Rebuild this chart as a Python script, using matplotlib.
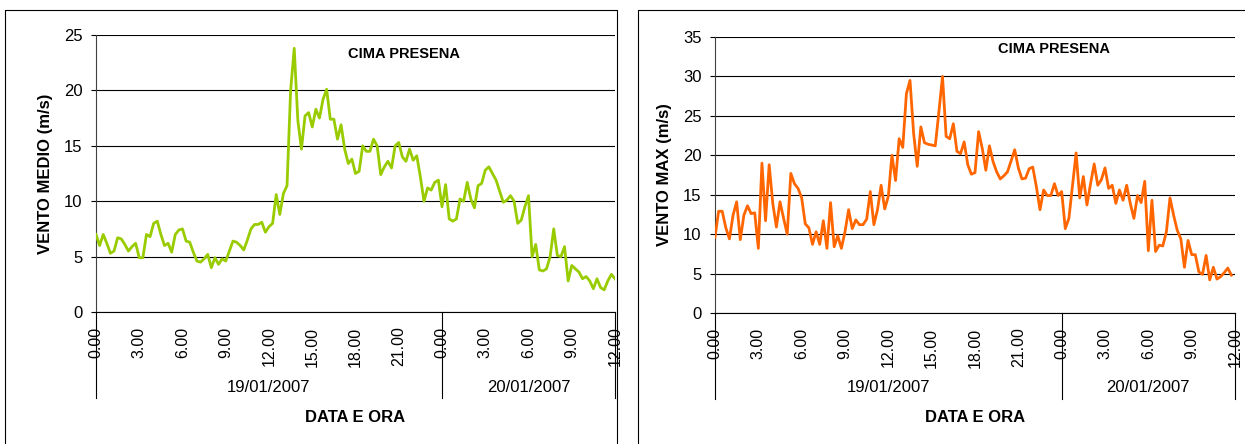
import numpy as np
import matplotlib
matplotlib.use("Agg")
import matplotlib.pyplot as plt
import matplotlib.transforms as mtransforms
from matplotlib.lines import Line2D

plt.rcParams['font.family'] = ['Liberation Sans', 'DejaVu Sans']

# 15-minute readings, 19/01/2007 0.00 -> 20/01/2007 12.00
vento_medio = [
    7.0, 6.0, 7.0, 6.2, 5.3, 5.5, 6.7, 6.6, 6.1, 5.5,
    5.9, 6.2, 4.9, 4.9, 7.0, 6.8, 8.0, 8.2, 7.0, 6.0,
    6.2, 5.4, 7.0, 7.4, 7.5, 6.4, 6.3, 5.4, 4.6, 4.5,
    4.8, 5.2, 4.0, 4.9, 4.3, 4.8, 4.6, 5.5, 6.4, 6.3,
    6.0, 5.6, 6.5, 7.5, 7.9, 7.9, 8.1, 7.2, 7.7, 8.0,
    10.6, 8.8, 10.7, 11.4, 20.0, 23.8, 17.3, 14.7, 17.7, 18.0,
    16.7, 18.3, 17.5, 19.2, 20.1, 17.4, 17.4, 15.6, 16.9, 14.7,
    13.4, 13.8, 12.5, 12.7, 15.0, 14.5, 14.5, 15.6, 15.0, 12.4,
    13.1, 13.6, 13.0, 15.0, 15.3, 14.0, 13.6, 14.7, 13.7, 14.1,
    12.2, 10.0, 11.2, 11.0, 11.7, 11.9, 9.5, 11.5, 8.4, 8.2,
    8.4, 10.2, 10.0, 11.7, 10.2, 9.4, 11.4, 11.6, 12.8, 13.1,
    12.5, 11.9, 10.9, 9.9, 10.1, 10.5, 10.0, 8.0, 8.3, 9.5,
    10.5, 5.0, 6.1, 3.8, 3.7, 3.9, 5.0, 7.5, 5.1, 5.0,
    5.9, 2.8, 4.2, 3.9, 3.6, 3.0, 3.2, 2.8, 2.1, 3.0,
    2.2, 2.0, 2.8, 3.4, 3.0,
]

vento_max = [
    9.6, 12.9, 12.9, 10.8, 9.4, 12.4, 14.1, 9.3, 12.4, 13.6,
    12.6, 12.7, 8.2, 19.0, 11.7, 18.8, 13.9, 10.9, 14.1, 12.0,
    10.0, 17.7, 16.4, 15.8, 14.6, 11.3, 10.8, 8.7, 10.3, 8.7,
    11.7, 8.2, 14.0, 8.4, 9.8, 8.2, 10.3, 13.1, 10.7, 11.8,
    11.2, 11.2, 11.9, 15.4, 11.2, 13.1, 16.2, 13.2, 14.8, 20.0,
    16.8, 22.1, 21.0, 27.8, 29.5, 22.8, 18.6, 23.6, 21.6, 21.4,
    21.3, 21.2, 25.5, 30.0, 22.4, 22.1, 24.0, 20.5, 20.2, 21.7,
    18.8, 17.6, 17.8, 23.0, 20.9, 18.1, 21.2, 19.2, 17.9, 17.0,
    17.4, 17.9, 19.3, 20.7, 18.4, 17.0, 17.1, 18.3, 18.5, 16.0,
    13.1, 15.6, 14.9, 14.9, 16.4, 14.9, 15.4, 10.7, 12.0, 16.2,
    20.3, 14.6, 17.3, 13.7, 16.4, 18.9, 16.2, 16.9, 18.4, 15.8,
    16.2, 13.9, 15.6, 14.3, 16.2, 13.9, 12.0, 14.9, 14.0, 16.7,
    7.9, 14.3, 7.8, 8.6, 8.5, 10.3, 14.6, 12.4, 10.5, 9.4,
    5.8, 9.2, 7.4, 7.4, 5.2, 4.9, 7.3, 4.2, 5.8, 4.3,
    4.6, 5.1, 5.7, 4.8,
]

tick_hours = list(range(0, 37, 3))
tick_labels = ["0.00", "3.00", "6.00", "9.00", "12.00", "15.00", "18.00",
               "21.00", "0.00", "3.00", "6.00", "9.00", "12.00"]
days = ["19/01/2007", "20/01/2007"]
day_edges = [0, 24, 36]

fig = plt.figure(figsize=(12.45, 4.44), dpi=100)

# outer chart frames (Excel style)
for xs, ys in [([5, 5, 617, 617], [460, 10, 10, 460]),
               ([638, 638, 1260], [460, 10, 10])]:
    fig.add_artist(Line2D([x / 1245 for x in xs], [1 - y / 444 for y in ys],
                          color="black", lw=0.8))


def draw(ax, values, color, ytop, ylabel, title_pos):
    t = np.arange(len(values)) * 0.25
    ax.plot(t, values, color=color, lw=2.0, zorder=3)
    ax.set_xlim(0, 36)
    ax.set_ylim(0, ytop)
    ax.set_yticks(range(0, ytop + 1, 5))
    ax.grid(axis="y", color="black", lw=0.8)
    ax.set_axisbelow(True)
    for s in ["top", "right"]:
        ax.spines[s].set_visible(False)
    ax.spines["left"].set_color("#404040")
    ax.spines["left"].set_linewidth(0.8)
    ax.spines["bottom"].set_linewidth(0.8)
    ax.set_xticks(tick_hours)
    ax.set_xticklabels(tick_labels, rotation=90, ha="center", va="top")
    ax.tick_params(axis="x", length=0, pad=10.5, labelsize=11.5)
    ax.tick_params(axis="y", length=3.6, pad=6, labelsize=12, width=0.8)

    trans = mtransforms.blended_transform_factory(ax.transData, ax.transAxes)
    for e in day_edges:
        ax.plot([e, e], [0, -0.31], transform=trans, color="black",
                lw=0.8, clip_on=False)
    for i, d in enumerate(days):
        mid = (day_edges[i] + day_edges[i + 1]) / 2
        ax.text(mid, -0.271, d, transform=trans, ha="center", va="center",
                fontsize=12)

    ax.text(0.5, -0.38, "DATA E ORA", transform=ax.transAxes, ha="center",
            va="center", fontsize=12, fontweight="bold")
    ax.text(-0.097, 0.5, ylabel, transform=ax.transAxes, rotation=90,
            ha="center", va="center", fontsize=12, fontweight="bold")
    ax.text(title_pos[0], title_pos[1], "CIMA PRESENA", transform=ax.transAxes,
            ha="center", va="center", fontsize=10.5, fontweight="bold")


ax1 = fig.add_axes([96 / 1245, 1 - 312 / 444, 519 / 1245, 277 / 444])
draw(ax1, vento_medio, "#99CC00", 25, "VENTO MEDIO (m/s)", (0.593, 0.931))

ax2 = fig.add_axes([715 / 1245, 1 - 313 / 444, 520 / 1245, 276 / 444])
draw(ax2, vento_max, "#FF6600", 35, "VENTO MAX (m/s)", (0.651, 0.957))

fig.savefig("out.png", dpi=100)
